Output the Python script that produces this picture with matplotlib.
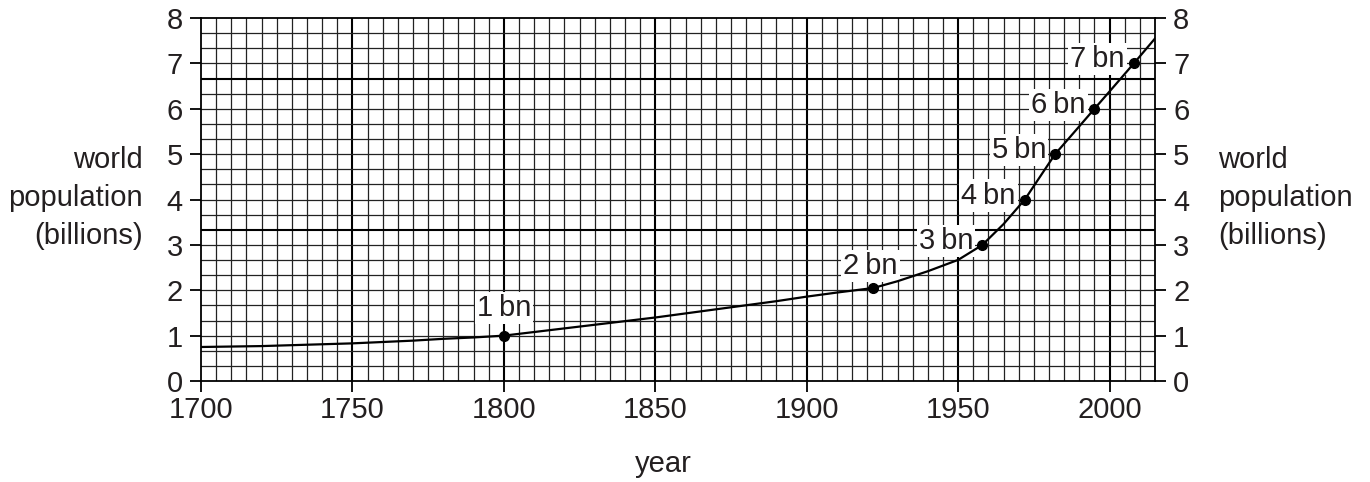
import matplotlib
matplotlib.use("Agg")
import matplotlib.pyplot as plt
import numpy as np

plt.rcParams['font.family'] = ['Liberation Sans', 'DejaVu Sans']

# curve
years = [1700, 1710, 1720, 1730, 1740, 1750, 1760, 1770, 1780, 1790, 1800,
         1810, 1820, 1830, 1840, 1850, 1860, 1870, 1880, 1890, 1900, 1910,
         1922, 1930, 1940, 1950, 1958, 1965, 1972, 1977, 1982, 1988, 1995,
         2001, 2008, 2015]
population = [0.75, 0.76, 0.77, 0.79, 0.81, 0.83, 0.86, 0.89, 0.93, 0.96, 1.00,
              1.08, 1.16, 1.24, 1.32, 1.40, 1.49, 1.58, 1.67, 1.76, 1.86, 1.95,
              2.05, 2.20, 2.42, 2.67, 3.00, 3.46, 4.00, 4.50, 5.00, 5.46, 6.00,
              6.46, 7.00, 7.55]

# milestone points
milestone_years = [1800, 1922, 1958, 1972, 1982, 1995, 2008]
milestone_values = [1.0, 2.05, 3.0, 4.0, 5.0, 6.0, 7.0]
milestone_labels = ["1\u2009bn", "2\u2009bn", "3\u2009bn", "4\u2009bn",
                    "5\u2009bn", "6\u2009bn", "7\u2009bn"]

x_ticks = [1700, 1750, 1800, 1850, 1900, 1950, 2000]
y_ticks = [0, 1, 2, 3, 4, 5, 6, 7, 8]

FS = 21
TXT = '#231f20'
fig = plt.figure(figsize=(13.70, 4.82), dpi=100)
ax = fig.add_axes([0.1467, 0.2095, 0.6964, 0.7531])
ax.set_xlim(1700, 2015)
ax.set_ylim(0, 8)

# graph-paper grid
for k in range(1, 63):
    xv = 1700 + 5 * k
    major = (k % 10 == 0)
    ax.axvline(xv, color='black' if major else '#222222',
               lw=1.5 if major else 0.9, zorder=1)
for k in range(1, 24):
    yv = k / 3
    major = (k % 10 == 0)
    ax.axhline(yv, color='black' if major else '#222222',
               lw=1.5 if major else 0.9, zorder=1)

ax.plot(years, population, color='black', lw=1.6, zorder=6)
ax.plot(milestone_years, milestone_values, 'o', color='black', ms=7, zorder=7)

box = dict(facecolor='white', edgecolor='none', pad=1.5)
for i, (yr, val, lab) in enumerate(zip(milestone_years, milestone_values, milestone_labels)):
    if i == 0:
        ax.annotate(lab, (yr, val), xytext=(0, 14), textcoords='offset pixels',
                    ha='center', va='bottom', fontsize=FS, color=TXT, bbox=box, zorder=5)
    elif i == 1:
        ax.annotate(lab, (yr, val), xytext=(-3, 8), textcoords='offset pixels',
                    ha='center', va='bottom', fontsize=FS, color=TXT, bbox=box, zorder=5)
    else:
        ax.annotate(lab, (yr, val), xytext=(-9, 4), textcoords='offset pixels',
                    ha='right', va='center', fontsize=FS, color=TXT, bbox=box, zorder=5)

for s in ax.spines.values():
    s.set_linewidth(1.3)
    s.set_zorder(8)

ax.set_xticks(x_ticks)
ax.set_yticks(y_ticks)
ax.tick_params(axis='both', direction='out', length=8, width=1.3,
               labelsize=FS, colors='black', labelcolor=TXT)
ax.tick_params(axis='x', pad=3)
ax.tick_params(axis='y', left=True, right=True, labelleft=True, labelright=True, pad=5)

fig.text(0.1044, 0.589, "world\npopulation\n(billions)", ha='right', va='center',
         fontsize=FS, linespacing=1.45, color=TXT)
fig.text(0.889, 0.589, "world\npopulation\n(billions)", ha='left', va='center',
         fontsize=FS, linespacing=1.45, color=TXT)
fig.text(0.484, 0.038, "year", ha='center', va='center', fontsize=FS, color=TXT)

fig.savefig("out.png", dpi=100, facecolor='white')
